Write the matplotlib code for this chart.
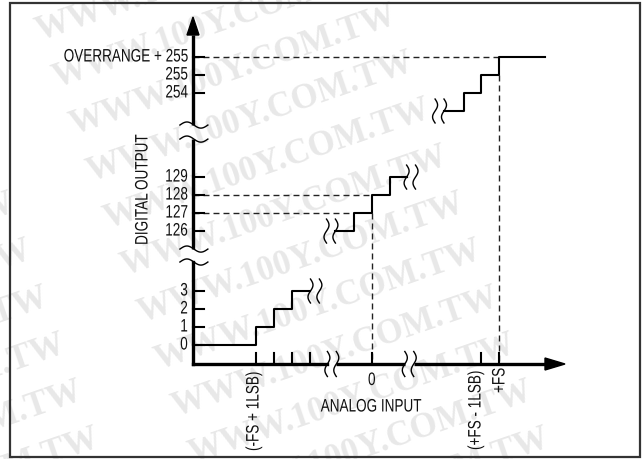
import numpy as np
import matplotlib
matplotlib.use("Agg")
import matplotlib.pyplot as plt
from matplotlib.patches import Rectangle
from matplotlib.patheffects import AbstractPathEffect
from matplotlib.transforms import Affine2D

plt.rcParams['lines.scale_dashes'] = False

# ---------------- data (codes / input positions in LSB units) ----------------
low_codes = [0, 1, 2, 3]
low_edges = [0.0, 3.55, 4.55, 5.55, 6.6]
mid_codes = [126, 127, 128, 129]
mid_edges = [8.0, 9.05, 10.05, 11.05, 12.0]
high_codes = [253, 254, 255, 256]          # 256 = overrange
high_edges = [14.1, 15.2, 16.2, 17.2, 19.8]

ytick_codes = [0, 1, 2, 3, 126, 127, 128, 129, 254, 255, 256]
ytick_labels = ['0', '1', '2', '3', '126', '127', '128', '129', '254', '255',
                'OVERRANGE + 255']
xtick_pos = [3.55, 4.55, 5.55, 6.55, 10.05, 16.2, 17.2]
xlabel_text = ['(-FS + 1LSB)', '0', '(+FS - 1LSB)', '+FS']

# ---------------- layout ----------------
PX_X, PX_Y = 17.8, 18.0        # pixels per unit
OX, OY = 193, 345              # pixel position of (0, code 0)
MID_OFF, HIGH_OFF = 119.67, 240.0
X_AXIS_Y = (OY - 364) / PX_Y
FONT = ['Liberation Sans', 'DejaVu Sans']
FS = 13
SX = 0.75
TXT = '#111111'


class Condense(AbstractPathEffect):
    """Draw the text narrower along its own baseline (condensed face look)."""

    def __init__(self, sx=SX, anchor=0.0):
        super().__init__()
        self.sx = sx
        self.anchor = anchor

    def draw_path(self, renderer, gc, tpath, affine, rgbFace=None):
        w = tpath.get_extents().x1
        pre = Affine2D().scale(self.sx, 1).translate((1 - self.sx) * self.anchor * w, 0)
        renderer.draw_path(gc, tpath, pre + affine, rgbFace)


def disp(code):
    if code <= 3:
        return code
    if code <= 129:
        return code - MID_OFF
    return code - HIGH_OFF


def px(x, y):
    return (x - OX) / PX_X, (OY - y) / PX_Y


fig = plt.figure(figsize=(6.42, 4.59), dpi=100)
ax = fig.add_axes([0, 0, 1, 1])
ax.set_xlim(-OX / PX_X, (642 - OX) / PX_X)
ax.set_ylim(-(459 - OY) / PX_Y, OY / PX_Y)
ax.axis('off')

# watermark (tiled, faint)
for k in range(-2, 12):
    for c in (-1, 0):
        wx, wy = px(37 + 17 * k + 450 * c, 33 + 47 * k)
        ax.text(wx, wy, 'WWW.100Y.COM.TW', rotation=19, rotation_mode='anchor',
                ha='left', va='center', fontsize=25, fontweight='bold',
                family=['Liberation Serif', 'DejaVu Serif'], color='#e8e8e8',
                zorder=0, clip_on=True)

# border
fig.patches.append(Rectangle((10 / 642, 2 / 459), 630 / 642, 454 / 459,
                             transform=fig.transFigure, fill=False,
                             edgecolor='#333333', lw=1.6))

AX_LW = 2.4
# y axis (broken twice)
y_top_base = px(0, 35)[1]
y_tip = px(0, 17)[1]
ybreaks = [(4.61, 5.33), (11.44, 12.22)]
segs = [X_AXIS_Y, ybreaks[0][0], ybreaks[0][1], ybreaks[1][0], ybreaks[1][1], y_top_base]
for i in range(0, len(segs), 2):
    ax.plot([0, 0], [segs[i], segs[i + 1]], color='black', lw=AX_LW,
            solid_capstyle='projecting' if i == 0 else 'butt', zorder=3)
ax.fill([-6 / PX_X, 6 / PX_X, 0], [y_top_base, y_top_base, y_tip], color='black', zorder=3)

# x axis (broken twice)
x_base = px(545, 0)[0]
x_tip = px(565, 0)[0]
xbreaks = [(7.55, 8.05), (11.9, 12.4)]
segs = [0, xbreaks[0][0], xbreaks[0][1], xbreaks[1][0], xbreaks[1][1], x_base]
for i in range(0, len(segs), 2):
    ax.plot([segs[i], segs[i + 1]], [X_AXIS_Y, X_AXIS_Y], color='black', lw=AX_LW,
            solid_capstyle='projecting' if i == 0 else 'butt', zorder=3)
ax.fill([x_base, x_base, x_tip], [X_AXIS_Y - 6 / PX_Y, X_AXIS_Y + 6 / PX_Y, X_AXIS_Y],
        color='black', zorder=3)


def s_curve(xc, yc, h=1.33, a=0.14):
    s = np.linspace(-1, 1, 80)
    return xc + a * np.sin(np.pi * s), yc + s * h / 2


def tilde(xc, yc, w=1.57, a=0.17):
    t = np.linspace(-1, 1, 80)
    return xc + t * w / 2, yc - a * np.sin(np.pi * t)


SQ_LW = 1.0
for lo, hi in ybreaks:
    for yy in (lo, hi):
        ax.plot(*tilde(0.05, yy), color='black', lw=SQ_LW, zorder=4)
for lo, hi in xbreaks:
    for xx in (lo, hi):
        ax.plot(*s_curve(xx, X_AXIS_Y, h=1.39), color='black', lw=SQ_LW, zorder=4)

# staircase segments
STEP_LW = 1.5
for codes, edges in ((low_codes, low_edges), (mid_codes, mid_edges), (high_codes, high_edges)):
    yv = [disp(c) for c in codes]
    ax.plot(edges, yv + [yv[-1]], drawstyle='steps-post', color='black',
            lw=STEP_LW, zorder=3)

# squiggles at the ends of the staircase pieces
for xx, code in ((low_edges[-1], low_codes[-1]), (mid_edges[-1], mid_codes[-1])):
    for d in (0, 0.5):
        ax.plot(*s_curve(xx + d, disp(code)), color='black', lw=SQ_LW, zorder=4)
for xx, code in ((mid_edges[0], mid_codes[0]), (high_edges[0], high_codes[0])):
    for d in (0, -0.5):
        ax.plot(*s_curve(xx + d, disp(code)), color='black', lw=SQ_LW, zorder=4)

# dashed guide lines
DKW = dict(color='#222222', lw=1.0, dashes=(4.3, 2.9), zorder=2)
ax.plot([0, high_edges[3]], [disp(256)] * 2, **DKW)
ax.plot([high_edges[3]] * 2, [disp(255), X_AXIS_Y], **DKW)
ax.plot([0, mid_edges[2]], [disp(128)] * 2, **DKW)
ax.plot([0, mid_edges[1]], [disp(127)] * 2, **DKW)
ax.plot([mid_edges[2]] * 2, [disp(127), X_AXIS_Y], **DKW)

# y ticks and labels
for code, lab in zip(ytick_codes, ytick_labels):
    yy = disp(code)
    ax.plot([0, 11 / PX_X], [yy, yy], color='black', lw=1.5, zorder=3)
    ax.text(-5 / PX_X, yy, lab, ha='right', va='center', fontsize=FS,
            family=FONT, color=TXT, path_effects=[Condense(anchor=1.0)])

# x ticks and labels
for xx in xtick_pos:
    ax.plot([xx, xx], [X_AXIS_Y, X_AXIS_Y + 11 / PX_Y], color='black', lw=1.5, zorder=3)

# rotated labels: (pixel x of centre, pixel y of lower end)
rot_spots = [(254, 451), (476, 450), (500, 393)]
for lab, (sx_, sy_) in zip([xlabel_text[0], xlabel_text[2], xlabel_text[3]], rot_spots):
    lx, ly = px(sx_, sy_)
    ax.text(lx, ly, lab, rotation=90, ha='center', va='bottom', fontsize=FS,
            family=FONT, color=TXT, path_effects=[Condense(anchor=0.0)])
lx, ly = px(0, 372)
ax.text(xtick_pos[4], ly, xlabel_text[1], ha='center', va='top', fontsize=FS,
        family=FONT, color=TXT, path_effects=[Condense(anchor=0.5)])

# axis titles
tx, ty = px(143, 190)
ax.text(tx, ty, 'DIGITAL OUTPUT', rotation=90, ha='center', va='center',
        fontsize=FS, family=FONT, color=TXT, path_effects=[Condense(anchor=0.5)])
tx, ty = px(371, 407)
ax.text(tx, ty, 'ANALOG INPUT', ha='center', va='center', fontsize=FS,
        family=FONT, color=TXT, path_effects=[Condense(anchor=0.5)])

fig.savefig('out.png', dpi=100)
